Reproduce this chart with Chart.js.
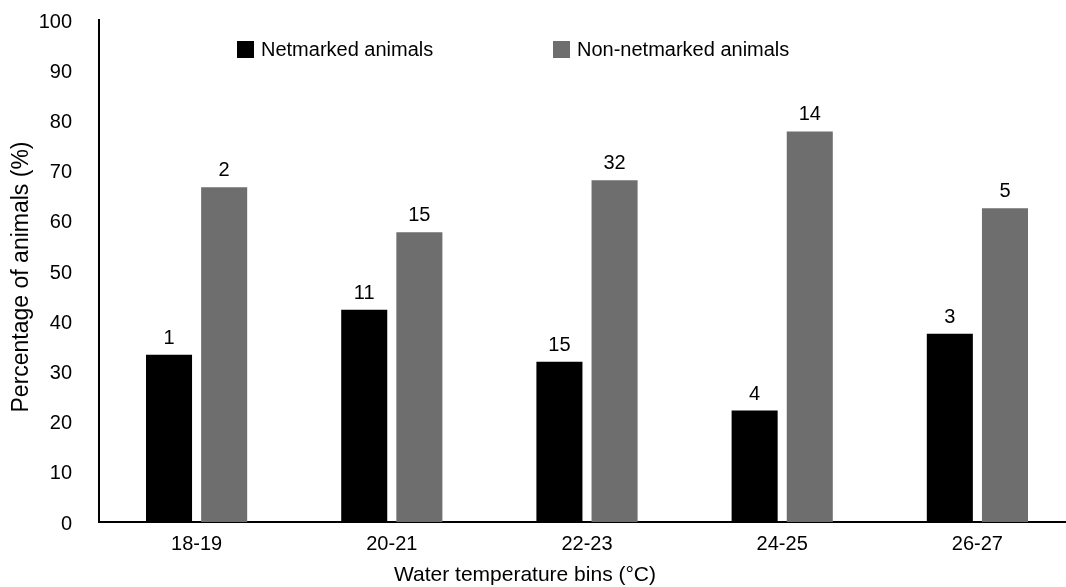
<!DOCTYPE html>
<html>
<head>
<meta charset="utf-8">
<script src="https://cdn.jsdelivr.net/npm/chart.js@4"></script>
<style>
  body { margin: 0; background: #fff; }
  .crop { width: 1066px; height: 587px; overflow: hidden; }
  /* the original figure is cropped a little on the right */
  .chart-container { position: relative; width: 1075px; height: 587px; }
</style>
</head>
<body>
<div class="crop"><div class="chart-container"><canvas id="chart"></canvas></div></div>
<script>
const tempBins = ["18-19", "20-21", "22-23", "24-25", "26-27"];
const netmarkedPct = [33.3, 42.3, 31.9, 22.2, 37.5];
const nonNetmarkedPct = [66.7, 57.7, 68.1, 77.8, 62.5];
const netmarkedCounts = [1, 11, 15, 4, 3];
const nonNetmarkedCounts = [2, 15, 32, 14, 5];

const FONT = "'Liberation Sans', Arial, sans-serif";

// count labels above each bar
const countLabels = {
  id: "countLabels",
  afterDatasetsDraw(chart) {
    const ctx = chart.ctx;
    ctx.save();
    ctx.font = "20px " + FONT;
    ctx.fillStyle = "#000";
    ctx.textAlign = "center";
    ctx.textBaseline = "alphabetic";
    chart.data.datasets.forEach((ds, i) => {
      chart.getDatasetMeta(i).data.forEach((bar, j) => {
        ctx.fillText(String(ds.counts[j]), bar.x, bar.y - 11);
      });
    });
    ctx.restore();
  },
};

// legend inside the plot + axis titles (placed like the original)
const extras = {
  id: "extras",
  afterDraw(chart) {
    const ctx = chart.ctx;
    const area = chart.chartArea;
    const starts = [area.left + 138, area.left + 454];
    ctx.save();
    ctx.font = "20px " + FONT;
    ctx.textBaseline = "middle";
    chart.data.datasets.forEach((ds, i) => {
      const x = starts[i];
      const y = 50;
      ctx.fillStyle = ds.backgroundColor;
      ctx.fillRect(x, y - 9, 17, 17);
      ctx.fillStyle = "#000";
      ctx.fillText(ds.label, x + 24, y);
    });
    ctx.font = "21px " + FONT;
    ctx.textAlign = "center";
    ctx.textBaseline = "alphabetic";
    ctx.fillText("Water temperature bins (°C)", 525, 581);

    ctx.font = "23px " + FONT;
    ctx.textBaseline = "middle";
    ctx.translate(22, 277);
    ctx.rotate(-Math.PI / 2);
    ctx.fillText("Percentage of animals (%)", 0, 0);
    ctx.restore();
  },
};

new Chart(document.getElementById("chart").getContext("2d"), {
  type: "bar",
  data: {
    labels: tempBins,
    datasets: [
      {
        label: "Netmarked animals",
        data: netmarkedPct,
        counts: netmarkedCounts,
        backgroundColor: "#000000",
        categoryPercentage: 0.565,
        barPercentage: 0.835,
      },
      {
        label: "Non-netmarked animals",
        data: nonNetmarkedPct,
        counts: nonNetmarkedCounts,
        backgroundColor: "#6e6e6e",
        categoryPercentage: 0.565,
        barPercentage: 0.835,
      },
    ],
  },
  options: {
    responsive: true,
    maintainAspectRatio: false,
    animation: false,
    layout: { padding: { top: 20, right: 0, left: 0, bottom: 21 } },
    plugins: {
      legend: { display: false },
      tooltip: { enabled: false },
    },
    scales: {
      x: {
        grid: { display: false, drawTicks: false },
        border: { display: true, color: "#000", width: 2 },
        ticks: { color: "#000", font: { size: 20, family: FONT }, padding: 10 },
      },
      y: {
        min: 0,
        max: 100,
        ticks: { stepSize: 10, color: "#000", font: { size: 20, family: FONT }, padding: 27, labelOffset: 2 },
        grid: { display: false, drawTicks: false },
        border: { display: true, color: "#000", width: 2 },
        afterFit(scale) {
          // room for the rotated title drawn by the plugin
          scale.width = 99;
          scale.paddingTop = 0;
          scale.paddingBottom = 0;
        },
      },
    },
  },
  plugins: [countLabels, extras],
});
</script>
</body>
</html>
